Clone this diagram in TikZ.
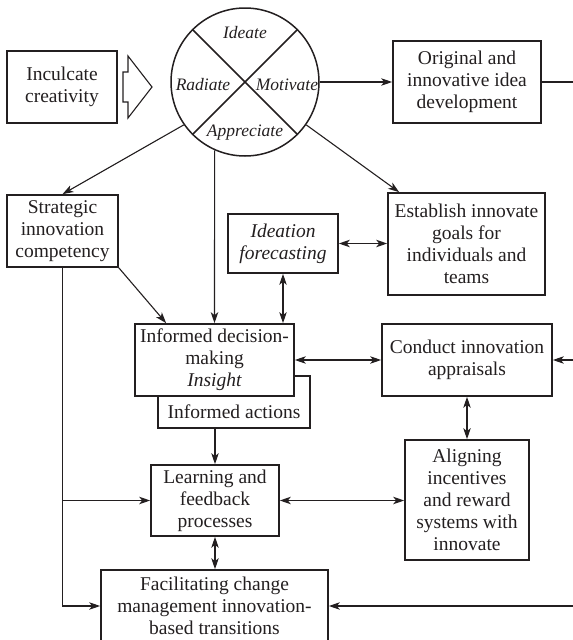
\documentclass[tikz,border=0pt]{standalone}
\usepackage{fontspec}
\setmainfont{Liberation Serif}
\usetikzlibrary{arrows.meta}
\definecolor{ink}{HTML}{231F20}
\begin{document}
\begin{tikzpicture}[x=1pt,y=-1pt,
  tip/.tip={Stealth[length=11pt,width=7.5pt,inset=3pt]},
  box/.style={draw=ink, line width=1.7pt, fill=white, align=center, inner sep=0pt,
    text=ink, font=\fontsize{19.5}{22}\selectfont},
  conn/.style={draw=ink, line width=1.1pt, -tip},
  dconn/.style={draw=ink, line width=1.1pt, tip-tip},
  lbl/.style={text=ink, inner sep=0pt, font=\fontsize{17.5}{20}\selectfont\itshape},
  txt/.style={text=ink, inner sep=0pt, font=\fontsize{19.5}{22}\selectfont}
]
\useasboundingbox (0,0) rectangle (573,640);

% left input box and hollow arrow
\node[box, minimum width=110pt, minimum height=72pt] (inc) at (62,87) {Inculcate\\creativity};
\draw[ink, line width=1.1pt, line join=miter]
  (123,72) -- (128,72) -- (128,56) -- (152,87) -- (128,118) -- (128,102) -- (123,102) -- cycle;

% the four-part circle
\node[draw=ink, line width=1.5pt, circle, minimum size=148pt, inner sep=0pt] (circ) at (245,82) {};
\draw[ink, line width=1.5pt] (circ.45) -- (circ.225);
\draw[ink, line width=1.5pt] (circ.135) -- (circ.315);
\node[lbl] (ideate) at (245,33) {Ideate};
\node[lbl] (radiate) at (203,85) {Radiate};
\node[lbl] (motivate) at (287,85) {Motivate};
\node[lbl] (appreciate) at (245,133) {Appreciate};

% boxes
\node[box, minimum width=148pt, minimum height=82pt] (orig) at (467,82)
  {Original and\\innovative idea\\development};
\node[box, minimum width=111pt, minimum height=72pt] (strat) at (62.5,231)
  {Strategic\\innovation\\competency};
\node[box, minimum width=110pt, minimum height=59pt] (ide) at (283,243.5)
  {\itshape Ideation\\\itshape forecasting};
\node[box, minimum width=157pt, minimum height=102pt] (est) at (466.5,244)
  {Establish innovate\\goals for\\individuals and\\teams};
\node[box, minimum width=152pt, minimum height=52pt] (act) at (234,402) {};
\node[txt] (acttxt) at (234,412) {Informed actions};
\node[box, minimum width=159pt, minimum height=72pt] (dec) at (214.5,360)
  {Informed decision-\\making\\\itshape Insight};
\node[box, minimum width=170pt, minimum height=72pt] (con) at (467,360)
  {Conduct innovation\\appraisals};
\node[box, minimum width=128pt, minimum height=71pt] (learn) at (215,500.5)
  {Learning and\\feedback\\processes};
\node[box, minimum width=124pt, minimum height=120pt] (ali) at (467,500)
  {Aligning\\incentives\\and reward\\systems with\\innovate};
\node[box, minimum width=227pt, minimum height=72pt] (fac) at (214.5,606)
  {Facilitating change\\management innovation-\\based transitions};

% free ends at the right margin
\coordinate (rOrig) at (573,82);
\coordinate (rCon) at (573,360);
\coordinate (rFac) at (573,606);

% connectors
\draw[conn] (circ.east) -- (orig.west);
\draw[ink, line width=1.1pt] (orig.east) -- (rOrig);
\draw[conn] (circ.215) -- (strat.north);
\draw[conn] (circ.246) -- (dec.north);
\draw[conn] (circ.325) -- ([xshift=12pt]est.north west);
\draw[dconn] (ide.east) -- (ide.east -| est.west);
\draw[dconn] (ide.south) -- (ide.south |- dec.north);
\draw[conn] (strat.south east) -- ([xshift=32pt]dec.north west);
\draw[dconn] (dec.east) -- (con.west);
\draw[conn] (rCon) -- (con.east);
\draw[dconn] (con.south) -- (ali.north);
\draw[conn] (learn.north |- act.south) -- (learn.north);
\draw[dconn] (learn.east) -- (learn.east -| ali.west);
\draw[dconn] (learn.south) -- (learn.south |- fac.north);
\draw[conn] (strat.south) |- (fac.west);
\draw[conn] (strat.south |- learn.west) -- (learn.west);
\draw[conn] (rFac) -- (fac.east);
\end{tikzpicture}
\end{document}
